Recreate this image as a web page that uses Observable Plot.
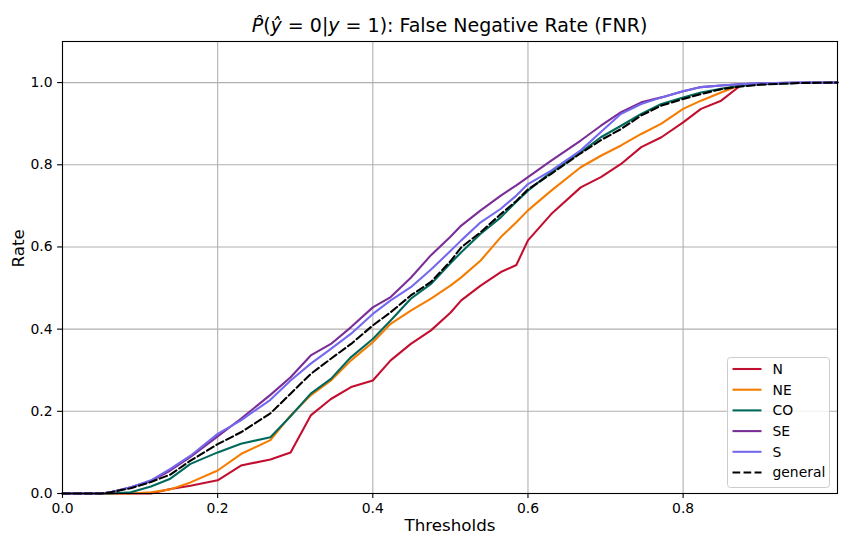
<!DOCTYPE html>
<html>
<head>
<meta charset="utf-8">
<script src="https://cdn.jsdelivr.net/npm/d3@7"></script>
<script src="https://cdn.jsdelivr.net/npm/@observablehq/plot@0.6"></script>
<style>
  html, body { margin: 0; padding: 0; background: white; }
  #wrap { width: 850px; height: 548px; position: relative; font-family: "DejaVu Sans", sans-serif; }
  #title { box-sizing: border-box; height: 36px; padding-top: 16px; padding-left: 62px; width: 837px;
           text-align: center; font-size: 19px; line-height: 19px; color: black; white-space: nowrap; overflow: visible; }
  svg { display: block; }
</style>
</head>
<body>
<div id="wrap">
  <div id="title"><i>P&#770;</i>(<i>&#375;</i> = 0|<i>y</i> = 1): False Negative Rate (FNR)</div>
  <div id="chart"></div>
</div>
<script>
const thresholds = [0, 0.05, 0.062, 0.088, 0.114, 0.139, 0.165, 0.2, 0.23, 0.268, 0.294, 0.32, 0.346, 0.372, 0.4, 0.423, 0.449, 0.475, 0.5, 0.514, 0.539, 0.565, 0.585, 0.6, 0.63, 0.668, 0.694, 0.72, 0.746, 0.772, 0.8, 0.823, 0.849, 0.872, 0.9, 0.95, 0.999];

const fnrN  = [0, 0, 0, 0, 0, 0.011, 0.019, 0.032, 0.068, 0.083, 0.1, 0.19, 0.23, 0.259, 0.275, 0.324, 0.364, 0.397, 0.44, 0.47, 0.506, 0.539, 0.556, 0.616, 0.68, 0.745, 0.77, 0.802, 0.843, 0.867, 0.903, 0.936, 0.956, 0.99, null, null, null];
const fnrNE = [0, 0, 0, 0, 0.003, 0.01, 0.027, 0.056, 0.096, 0.13, 0.19, 0.239, 0.275, 0.324, 0.368, 0.413, 0.445, 0.474, 0.506, 0.526, 0.567, 0.624, 0.66, 0.689, 0.737, 0.794, 0.822, 0.847, 0.875, 0.9, 0.936, 0.956, 0.976, 0.993, null, null, null];
const fnrCO = [0, 0, 0, 0.003, 0.017, 0.036, 0.072, 0.1, 0.121, 0.137, 0.188, 0.243, 0.279, 0.332, 0.376, 0.421, 0.474, 0.51, 0.56, 0.587, 0.632, 0.672, 0.71, 0.737, 0.782, 0.83, 0.867, 0.895, 0.924, 0.948, 0.964, 0.976, 0.985, 0.992, 0.996, 0.999, 1.0];
const fnrSE = [0, 0, 0.003, 0.015, 0.03, 0.056, 0.089, 0.139, 0.182, 0.24, 0.283, 0.336, 0.364, 0.405, 0.453, 0.478, 0.525, 0.58, 0.625, 0.652, 0.689, 0.725, 0.75, 0.77, 0.81, 0.859, 0.895, 0.928, 0.952, 0.964, 0.979, 0.989, 0.993, 0.996, 0.998, 1.0, 1.0];
const fnrS  = [0, 0, 0.003, 0.015, 0.032, 0.06, 0.092, 0.145, 0.178, 0.228, 0.275, 0.316, 0.352, 0.389, 0.437, 0.47, 0.502, 0.545, 0.59, 0.616, 0.66, 0.693, 0.725, 0.753, 0.786, 0.835, 0.88, 0.924, 0.948, 0.964, 0.979, 0.989, 0.993, 0.996, 0.998, 1.0, 1.0];
const fnrGeneral = [0, 0, 0.003, 0.013, 0.028, 0.046, 0.08, 0.12, 0.149, 0.195, 0.243, 0.291, 0.328, 0.364, 0.409, 0.441, 0.482, 0.515, 0.565, 0.599, 0.636, 0.68, 0.712, 0.74, 0.778, 0.828, 0.86, 0.887, 0.92, 0.944, 0.96, 0.972, 0.984, 0.99, 0.995, 0.999, 1.0];

const regionNames = ["N", "NE", "CO", "SE", "S"];
const regionValues = [fnrN, fnrNE, fnrCO, fnrSE, fnrS];
const regionColors = ["#c20f2f", "#f57c00", "#00695c", "#7b2d96", "#7468ee"];
const generalName = "general";

const xTicks = [0, 0.2, 0.4, 0.6, 0.8];
const yTicks = [0, 0.2, 0.4, 0.6, 0.8, 1.0];

const regionRows = [];
regionNames.forEach((name, k) => {
  thresholds.forEach((t, i) => {
    const v = regionValues[k][i];
    if (v !== null) regionRows.push({s: name, t, v});
  });
});
const generalRows = thresholds.map((t, i) => ({t, v: fnrGeneral[i]}));

const LW = 2.08;
const DASH = "7.7,3.33";
const gridStyle = {stroke: "#b0b0b0", strokeOpacity: 1, strokeWidth: 1.1};

const svg = Plot.plot({
  width: 850,
  height: 512,
  marginTop: 5,
  marginRight: 13,
  marginBottom: 55,
  marginLeft: 62,
  style: {fontFamily: "DejaVu Sans", fontSize: "13.9px", color: "black", background: "white"},
  x: {domain: [0, 0.999]},
  y: {domain: [0, 1.1]},
  color: {domain: regionNames, range: regionColors},
  marks: [
    Plot.gridX(xTicks, gridStyle),
    Plot.gridY(yTicks, gridStyle),
    Plot.line(regionRows, {x: "t", y: "v", z: "s", stroke: "s", strokeWidth: LW}),
    Plot.line(generalRows, {x: "t", y: "v", stroke: "black", strokeWidth: LW, strokeDasharray: DASH}),
    Plot.frame({stroke: "black", strokeWidth: 1.1}),
    Plot.axisX(xTicks, {tickFormat: ".1f", tickSize: 4.9, tickPadding: 5.2, strokeWidth: 1.1, label: null}),
    Plot.axisY(yTicks, {tickFormat: ".1f", tickSize: 4.9, tickPadding: 5.1, strokeWidth: 1.1, label: null}),
    Plot.text(["Thresholds"], {text: d => d, frameAnchor: "bottom", dy: 37, fontSize: 16.7}),
    Plot.text(["Rate"], {text: d => d, frameAnchor: "left", dx: -44, rotate: -90, fontSize: 16.7})
  ]
});

// legend (lower right, inside the frame)
const legendItems = regionNames.map((n, i) => ({name: n, color: regionColors[i], dash: null}))
  .concat([{name: generalName, color: "black", dash: DASH}]);
const lg = d3.select(svg).append("g").attr("transform", "translate(727.5,321.5)");
lg.append("rect").attr("width", 102).attr("height", 130).attr("rx", 3)
  .attr("fill", "white").attr("fill-opacity", 0.8).attr("stroke", "#cccccc").attr("stroke-width", 1);
legendItems.forEach((d, i) => {
  const yy = 11.5 + i * 20.7;
  lg.append("line").attr("x1", 5).attr("x2", 34).attr("y1", yy).attr("y2", yy)
    .attr("stroke", d.color).attr("stroke-width", LW).attr("stroke-dasharray", d.dash);
  lg.append("text").attr("x", 45).attr("y", yy).attr("dy", "0.35em")
    .attr("text-anchor", "start").attr("font-size", "13.9px").attr("fill", "black").text(d.name);
});

document.getElementById("chart").appendChild(svg);
</script>
</body>
</html>
